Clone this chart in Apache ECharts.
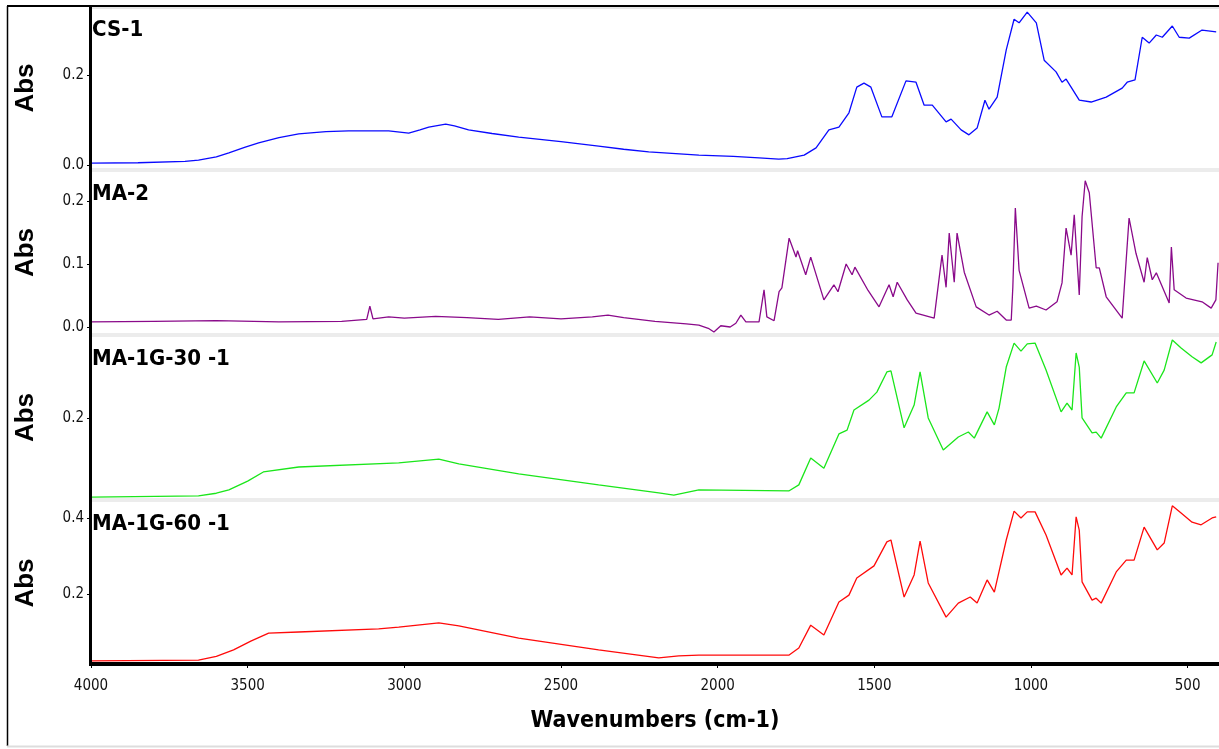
<!DOCTYPE html>
<html>
<head>
<meta charset="utf-8">
<script src="https://cdn.jsdelivr.net/npm/echarts@6/dist/echarts.min.js"></script>
<style>
  html, body { margin: 0; padding: 0; background: #fff; }
  #main { width: 1219px; height: 749px; }
</style>
</head>
<body>
<div id="main"></div>
<script>
// spectra as [wavenumber, absorbance]
const csOne = [[4000,0.004],[3850,0.005],[3700,0.008],[3657,0.011],[3600,0.018],[3560,0.027],[3510,0.039],[3465,0.049],[3400,0.061],[3337,0.069],[3250,0.074],[3178,0.076],[3050,0.076],[2986,0.071],[2950,0.078],[2922,0.084],[2868,0.091],[2840,0.087],[2795,0.078],[2720,0.070],[2635,0.062],[2500,0.052],[2380,0.042],[2300,0.035],[2220,0.029],[2060,0.022],[1950,0.019],[1868,0.016],[1805,0.013],[1778,0.014],[1724,0.022],[1686,0.038],[1645,0.078],[1613,0.084],[1581,0.116],[1556,0.173],[1533,0.182],[1511,0.173],[1476,0.107],[1444,0.107],[1399,0.187],[1367,0.184],[1341,0.133],[1315,0.133],[1271,0.096],[1255,0.102],[1223,0.078],[1198,0.067],[1172,0.082],[1147,0.144],[1134,0.124],[1108,0.151],[1079,0.256],[1054,0.324],[1038,0.316],[1012,0.340],[983,0.316],[958,0.233],[920,0.207],[901,0.184],[888,0.191],[846,0.144],[808,0.140],[760,0.151],[709,0.171],[693,0.184],[668,0.189],[645,0.284],[623,0.271],[600,0.289],[581,0.284],[549,0.309],[527,0.284],[495,0.282],[454,0.300],[409,0.296]];

const maTwo = [[4000,0.008],[3800,0.009],[3600,0.010],[3400,0.008],[3200,0.009],[3120,0.012],[3110,0.033],[3100,0.013],[3050,0.016],[3000,0.014],[2900,0.017],[2800,0.015],[2700,0.012],[2600,0.016],[2500,0.013],[2400,0.016],[2350,0.019],[2300,0.015],[2200,0.009],[2100,0.005],[2060,0.003],[2030,-0.002],[2012,-0.008],[1990,0.002],[1960,0.000],[1942,0.006],[1926,0.019],[1910,0.008],[1868,0.008],[1852,0.059],[1843,0.016],[1820,0.010],[1804,0.056],[1795,0.062],[1772,0.141],[1750,0.111],[1745,0.121],[1719,0.083],[1703,0.111],[1661,0.043],[1629,0.067],[1616,0.056],[1590,0.100],[1571,0.083],[1562,0.095],[1520,0.058],[1485,0.032],[1453,0.067],[1440,0.048],[1427,0.071],[1395,0.043],[1367,0.022],[1309,0.014],[1284,0.114],[1271,0.063],[1261,0.149],[1245,0.071],[1236,0.149],[1213,0.087],[1175,0.032],[1134,0.019],[1108,0.025],[1079,0.011],[1063,0.011],[1058,0.063],[1050,0.189],[1038,0.090],[1006,0.030],[983,0.033],[952,0.027],[917,0.040],[901,0.070],[888,0.157],[872,0.114],[862,0.178],[846,0.051],[837,0.175],[827,0.232],[814,0.213],[792,0.094],[782,0.094],[760,0.048],[709,0.014],[687,0.173],[665,0.117],[639,0.071],[629,0.110],[613,0.075],[600,0.086],[559,0.038],[552,0.127],[543,0.059],[505,0.046],[454,0.040],[425,0.030],[410,0.043],[403,0.102]];

const ma1g30 = [[4000,-0.008],[3657,-0.005],[3600,0.002],[3560,0.011],[3500,0.034],[3450,0.058],[3337,0.071],[3018,0.082],[2890,0.092],[2826,0.079],[2635,0.053],[2380,0.024],[2188,0.003],[2140,-0.003],[2060,0.011],[1773,0.008],[1741,0.024],[1703,0.095],[1661,0.068],[1613,0.158],[1587,0.168],[1565,0.221],[1517,0.247],[1492,0.268],[1460,0.321],[1447,0.324],[1405,0.174],[1373,0.234],[1354,0.321],[1328,0.200],[1280,0.116],[1232,0.150],[1200,0.163],[1181,0.147],[1140,0.216],[1117,0.182],[1102,0.226],[1079,0.334],[1054,0.397],[1032,0.376],[1012,0.395],[987,0.397],[952,0.326],[904,0.216],[885,0.239],[869,0.221],[856,0.371],[846,0.334],[837,0.200],[805,0.161],[792,0.163],[776,0.147],[728,0.229],[696,0.266],[671,0.266],[639,0.350],[597,0.292],[575,0.326],[549,0.405],[521,0.384],[486,0.361],[457,0.345],[422,0.366],[409,0.400]];

const ma1g60 = [[4000,0.024],[3657,0.026],[3600,0.036],[3545,0.053],[3490,0.076],[3433,0.097],[3337,0.100],[3082,0.108],[3018,0.113],[2890,0.124],[2826,0.116],[2635,0.084],[2380,0.053],[2188,0.032],[2124,0.037],[2060,0.039],[1773,0.039],[1741,0.058],[1703,0.118],[1661,0.092],[1613,0.179],[1581,0.197],[1556,0.242],[1501,0.274],[1460,0.337],[1447,0.342],[1405,0.192],[1373,0.250],[1354,0.339],[1328,0.229],[1271,0.139],[1232,0.176],[1194,0.192],[1172,0.176],[1140,0.237],[1117,0.205],[1079,0.342],[1054,0.418],[1032,0.400],[1012,0.416],[987,0.416],[952,0.355],[904,0.250],[885,0.268],[869,0.250],[856,0.403],[846,0.368],[837,0.232],[805,0.184],[792,0.189],[776,0.176],[728,0.258],[696,0.289],[671,0.289],[639,0.376],[597,0.316],[575,0.334],[549,0.432],[521,0.413],[486,0.389],[457,0.382],[422,0.400],[409,0.403]];

const names = ["CS-1", "MA-2", "MA-1G-30 -1", "MA-1G-60 -1"];
const colors = ["#0a0aff", "#8a0a8a", "#1be61b", "#ff0a0a"];
const yTicks = [[0, 0.2], [0, 0.1, 0.2], [0.2], [0.2, 0.4]];
const yRange = [[-0.0067, 0.349], [-0.0095, 0.246], [-0.0105, 0.413], [0.0158, 0.442]];
const xTicks = [4000, 3500, 3000, 2500, 2000, 1500, 1000, 500];

let chart = echarts.init(document.getElementById("main"));
const narrow = "'DejaVu Sans Condensed', 'Liberation Sans Narrow', sans-serif";
const panels = [
  { top: 8, height: 160 },
  { top: 172, height: 161 },
  { top: 337, height: 161 },
  { top: 502, height: 162 },
];
const allData = [csOne, maTwo, ma1g30, ma1g60];

let option = {
  backgroundColor: "#fff",
  animation: false,
  title: names.map((n, i) => ({
    text: n,
    left: 92,
    top: panels[i].top + 11,
    padding: 0,
    textStyle: { fontFamily: narrow, fontSize: 22, fontWeight: "bold", color: "#000" },
  })),
  grid: panels.map((p) => ({ left: 91, right: 0, top: p.top, height: p.height })),
  xAxis: panels.map((p, i) => ({
    gridIndex: i,
    type: "value",
    min: 400,
    max: 4000,
    inverse: true,
    show: i === 3,
    name: i === 3 ? "Wavenumbers (cm-1)" : "",
    nameLocation: "middle",
    nameGap: 46,
    nameTextStyle: { fontFamily: narrow, fontSize: 23, fontWeight: "bold", color: "#000" },
    axisLine: { show: true, onZero: false, lineStyle: { color: "#000", width: 4 } },
    axisTick: { show: true, length: 4, customValues: xTicks, lineStyle: { color: "#000" } },
    axisLabel: {
      customValues: xTicks,
      formatter: (v) => String(v),
      fontFamily: narrow,
      fontSize: 15,
      color: "#111",
      margin: 15,
    },
    splitLine: { show: false },
  })),
  yAxis: panels.map((p, i) => ({
    gridIndex: i,
    type: "value",
    min: yRange[i][0],
    max: yRange[i][1],
    name: "Abs",
    nameLocation: "middle",
    nameRotate: 90,
    nameGap: 52,
    nameTextStyle: { fontFamily: "'Liberation Sans', Arial, sans-serif", fontSize: 26, fontWeight: "bold", color: "#000" },
    axisLine: { show: false },
    axisTick: { show: true, length: 4, customValues: yTicks[i], lineStyle: { color: "#000" } },
    axisLabel: {
      customValues: yTicks[i],
      formatter: (v) => v.toFixed(1),
      fontFamily: narrow,
      fontSize: 15,
      color: "#111",
      margin: 7,
    },
    splitLine: { show: false },
  })),
  series: allData.map((d, i) => ({
    name: names[i],
    type: "line",
    xAxisIndex: i,
    yAxisIndex: i,
    data: d,
    showSymbol: false,
    symbol: "none",
    lineStyle: { color: colors[i], width: 1.3 },
    z: 3,
  })),
  graphic: {
    elements: [
      // outer frame
      { type: "line", shape: { x1: 7, y1: 6, x2: 1219, y2: 6 }, style: { stroke: "#000", lineWidth: 2 }, z: 10 },
      { type: "rect", shape: { x: 92, y: 7, width: 1127, height: 2 }, style: { fill: "#e6e6e6" }, z: 9 },
      { type: "line", shape: { x1: 7.5, y1: 6, x2: 7.5, y2: 746 }, style: { stroke: "#000", lineWidth: 1.5 }, z: 10 },
      { type: "line", shape: { x1: 7, y1: 746.5, x2: 1219, y2: 746.5 }, style: { stroke: "#ddd", lineWidth: 2 }, z: 10 },
      // separators between panels
      { type: "rect", shape: { x: 92, y: 168, width: 1127, height: 4 }, style: { fill: "#ececec" }, z: 9 },
      { type: "rect", shape: { x: 92, y: 333, width: 1127, height: 4 }, style: { fill: "#ececec" }, z: 9 },
      { type: "rect", shape: { x: 92, y: 498, width: 1127, height: 4 }, style: { fill: "#ececec" }, z: 9 },
      // left axis line across all panels
      { type: "line", shape: { x1: 90.5, y1: 7, x2: 90.5, y2: 666 }, style: { stroke: "#000", lineWidth: 3 }, z: 11 },
    ],
  },
};

chart.setOption(option);
</script>
</body>
</html>
